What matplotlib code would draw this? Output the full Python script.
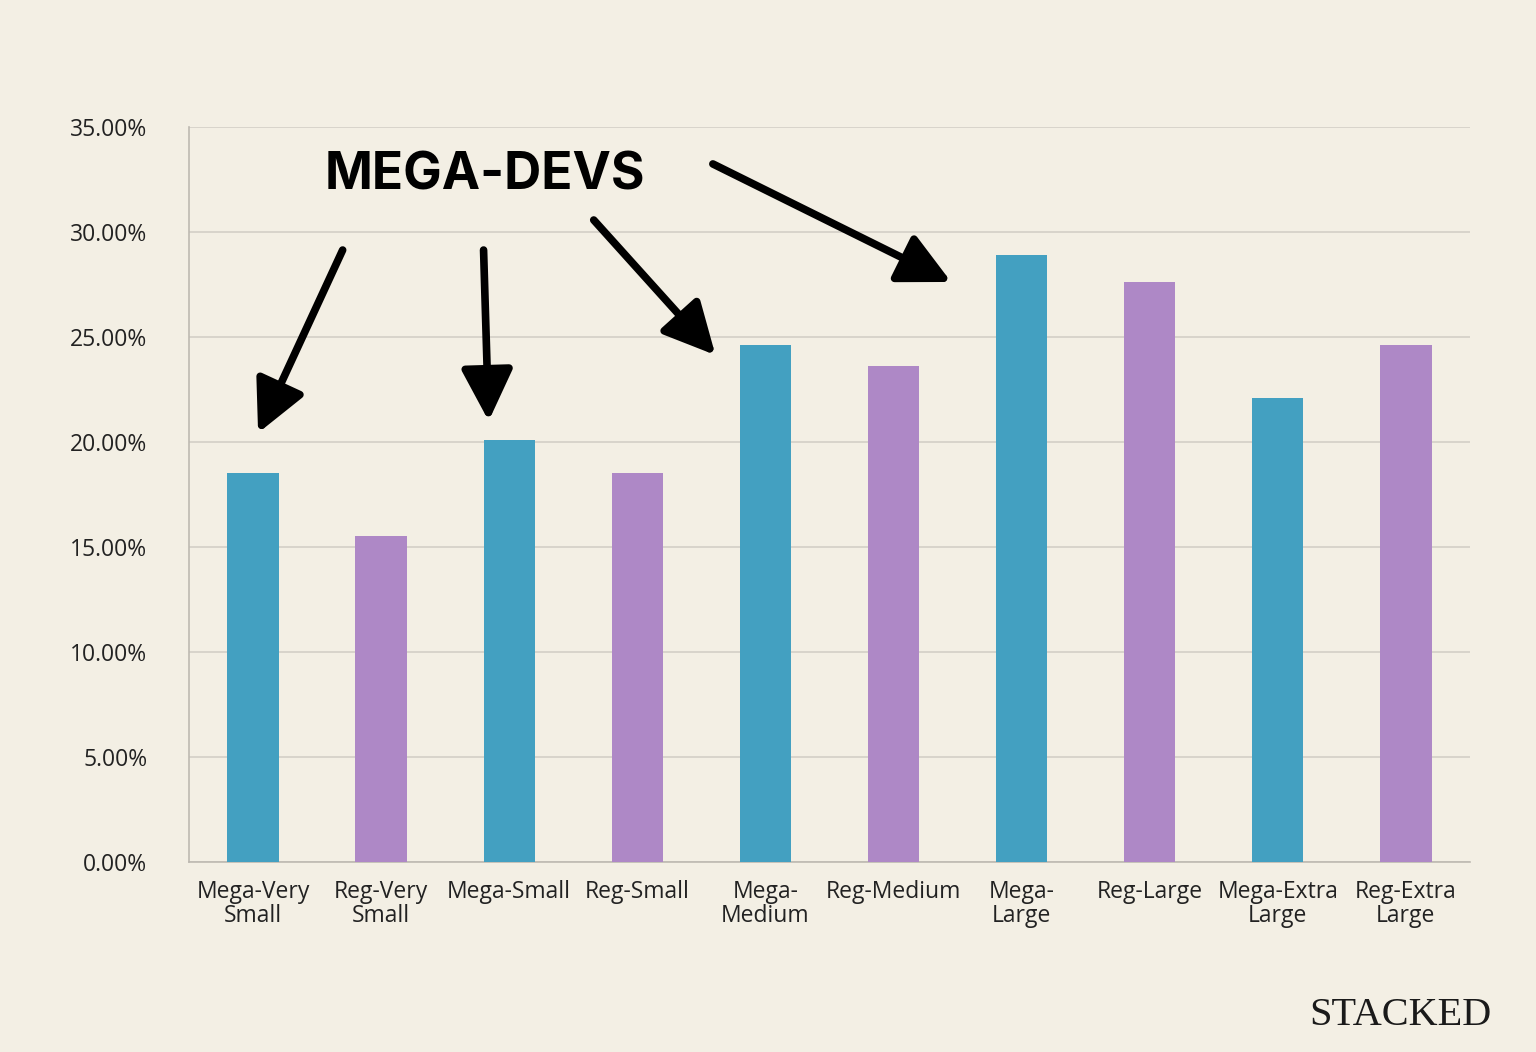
import matplotlib
matplotlib.use("Agg")
import matplotlib.pyplot as plt
from matplotlib.ticker import FuncFormatter

categories = ["Mega-Very\nSmall", "Reg-Very\nSmall", "Mega-Small", "Reg-Small", "Mega-\nMedium",
              "Reg-Medium", "Mega-\nLarge", "Reg-Large", "Mega-Extra\nLarge", "Reg-Extra\nLarge"]
values = [18.5, 15.5, 20.1, 18.5, 24.6, 23.6, 28.9, 27.6, 22.1, 24.6]
yticks = [0, 5, 10, 15, 20, 25, 30, 35]

BG = "#F3EFE4"
TEAL = "#43A0C1"
PURPLE = "#AE88C6"
colors = [TEAL if c.startswith("Mega") else PURPLE for c in categories]

fig = plt.figure(figsize=(15.36, 10.52), dpi=100, facecolor=BG)
ax = fig.add_axes([0.123, 0.1806, 0.834, 0.6987], facecolor=BG)

x = list(range(len(categories)))
ax.bar(x, values, width=0.4, color=colors, zorder=3)

ax.set_xlim(-0.5, 9.5)
ax.set_ylim(0, 35)
ax.set_yticks(yticks)
ax.yaxis.set_major_formatter(FuncFormatter(lambda v, p: f"{v:.2f}%"))
ax.grid(axis="y", color="#D3CFC6", lw=1.2, zorder=0)
ax.set_axisbelow(True)
for s in ["top", "right"]:
    ax.spines[s].set_visible(False)
ax.spines["left"].set_color("#BDB9B1")
ax.spines["bottom"].set_color("#BDB9B1")
ax.spines["left"].set_linewidth(1.2)
ax.spines["bottom"].set_linewidth(1.2)
ax.tick_params(axis="y", length=0, pad=30, labelsize=16.5, labelcolor="#222222")
ax.tick_params(axis="x", length=0, pad=13, labelsize=16.5, labelcolor="#222222")
ax.set_xticks(x)
ax.set_xticklabels(categories, linespacing=1.0)
for lab in ax.get_xticklabels() + ax.get_yticklabels():
    lab.set_fontfamily("Open Sans")

ax.text(1.81, 32.65, "MEGA-DEVS", fontsize=37, fontweight="bold", family="Inter",
        ha="center", va="center", color="black")

arrows = [((0.70, 29.14), (0.04, 20.43)),
          ((1.80, 29.14), (1.84, 21.0)),
          ((2.66, 30.57), (3.61, 24.14)),
          ((3.59, 33.24), (5.45, 27.62))]
for start, end in arrows:
    ax.annotate("", xy=end, xytext=start,
                arrowprops=dict(arrowstyle="-|>,head_length=1.5,head_width=0.75",
                                lw=5.5, color="black", mutation_scale=21,
                                shrinkA=0, shrinkB=0, capstyle="round"),
                zorder=5)

fig.text(0.971, 0.026, "STACKED", fontsize=29, family="Liberation Serif",
         ha="right", va="baseline", color="#1a1a1a")

fig.savefig("out.png", dpi=100, facecolor=BG)
